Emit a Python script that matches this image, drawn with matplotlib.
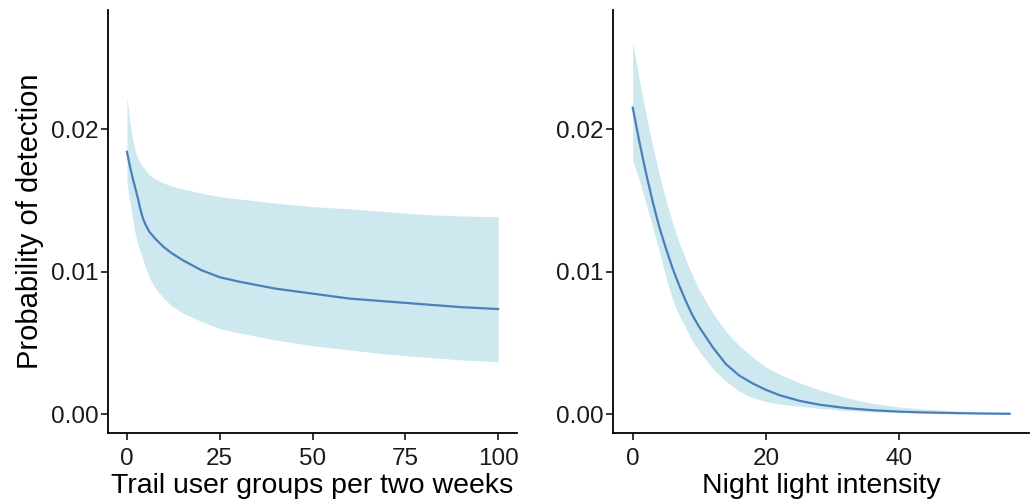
import matplotlib
matplotlib.use("Agg")
import matplotlib.pyplot as plt

# Left panel: trail user groups per two weeks
trail_x = [0, 0.4, 0.8, 1.5, 2.2, 3, 3.5, 4, 4.5, 5, 6, 7, 8, 10, 12, 15, 20, 25, 30,
           40, 50, 60, 70, 80, 90, 100]
trail_mean = [0.0184, 0.0179, 0.0174, 0.0166, 0.0159, 0.0151, 0.0145, 0.0140, 0.0136, 0.0133,
              0.0128, 0.0125, 0.0122, 0.0117, 0.0113, 0.0108, 0.0101, 0.0096, 0.0093,
              0.0088, 0.00845, 0.0081, 0.0079, 0.0077, 0.0075, 0.00737]
trail_upper = [0.0222, 0.0214, 0.0204, 0.0193, 0.0185, 0.0179, 0.0177, 0.01745, 0.0173, 0.0171,
               0.0168, 0.0166, 0.01645, 0.0162, 0.0160, 0.0158, 0.0155, 0.01525, 0.0151,
               0.0148, 0.01455, 0.0144, 0.0142, 0.0140, 0.0139, 0.01385]
trail_lower = [0.0162, 0.0155, 0.0149, 0.0137, 0.0127, 0.0119, 0.0115, 0.0111, 0.0107, 0.0103,
               0.0096, 0.0091, 0.0087, 0.0081, 0.0076, 0.0071, 0.0065, 0.0060, 0.0057,
               0.0052, 0.0048, 0.0045, 0.0042, 0.0040, 0.0038, 0.00367]

# Right panel: night light intensity
light_x = [0, 1, 2, 3, 4, 5, 6, 7, 8, 9, 10, 12, 14, 16, 18, 20, 22, 25, 28, 32, 36, 40,
           44, 48, 52, 56.6]
light_mean = [0.0215, 0.0191, 0.0169, 0.0149, 0.0131, 0.0116, 0.0102, 0.0090, 0.0079, 0.0069,
              0.0061, 0.0047, 0.0035, 0.0027, 0.00215, 0.0017, 0.00133, 0.00093, 0.00066,
              0.00042, 0.00027, 0.00017, 0.00011, 0.00007, 0.00004, 0.00002]
light_upper = [0.0261, 0.0234, 0.0210, 0.0188, 0.0168, 0.0150, 0.0134, 0.0120, 0.0108, 0.0097,
               0.0087, 0.0071, 0.0058, 0.0048, 0.0040, 0.0033, 0.0028, 0.0022, 0.0017,
               0.00115, 0.00075, 0.0005, 0.00034, 0.00023, 0.00015, 0.0001]
light_lower = [0.0178, 0.0164, 0.0148, 0.0131, 0.0114, 0.0096, 0.0080, 0.0069, 0.0060, 0.0051,
               0.0044, 0.0032, 0.0023, 0.0016, 0.00115, 0.00088, 0.0007, 0.00055, 0.0004,
               0.00025, 0.00015, 0.0001, 0.00006, 0.00004, 0.00002, 0.00001]

y_ticks = [0.00, 0.01, 0.02]
y_ticklabels = ["0.00", "0.01", "0.02"]
trail_ticks = [0, 25, 50, 75, 100]
light_ticks = [0, 20, 40]

plt.rcParams['font.family'] = ['Liberation Sans', 'DejaVu Sans']

W, H = 1036, 503
fig = plt.figure(figsize=(W / 100, H / 100), dpi=100)

fill_col = "#cde8ef"
line_col = "#4a7fbb"

def make_ax(x0, x1, y0=10, y1=433):
    return fig.add_axes([x0 / W, (H - y1) / H, (x1 - x0) / W, (y1 - y0) / H])

ax1 = make_ax(108, 517)
ax2 = make_ax(613, 1029)

ylim = (-0.00133, 0.02835)

for ax, x, m, lo, up, xt, xl in [
    (ax1, trail_x, trail_mean, trail_lower, trail_upper, trail_ticks, (-5.1, 105.1)),
    (ax2, light_x, light_mean, light_lower, light_upper, light_ticks, (-2.96, 59.5)),
]:
    ax.fill_between(x, lo, up, color=fill_col, linewidth=0)
    ax.plot(x, m, color=line_col, linewidth=1.6)
    ax.set_xlim(*xl)
    ax.set_ylim(*ylim)
    ax.set_xticks(xt)
    ax.set_xticklabels([str(t) for t in xt])
    ax.set_yticks(y_ticks)
    ax.set_yticklabels(y_ticklabels)
    for s in ["top", "right"]:
        ax.spines[s].set_visible(False)
    for s in ["left", "bottom"]:
        ax.spines[s].set_linewidth(1.3)
        ax.spines[s].set_color("black")
    ax.tick_params(axis="both", length=5, width=1.1, color="black",
                   labelsize=17.5, labelcolor="#1a1a1a")
    ax.tick_params(axis="y", pad=1.5)
    ax.tick_params(axis="x", pad=6)

ax1.set_xlabel("Trail user groups per two weeks", fontsize=20.5, labelpad=2)
ax2.set_xlabel("Night light intensity", fontsize=20.5, labelpad=2)
ax1.set_ylabel("Probability of detection", fontsize=21, labelpad=5)

fig.savefig("out.png", dpi=100)
